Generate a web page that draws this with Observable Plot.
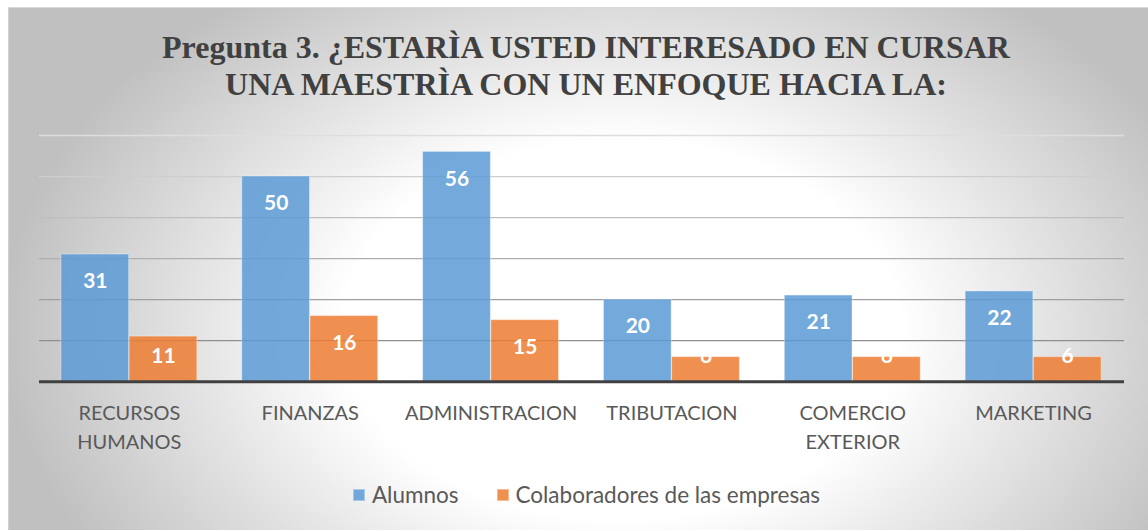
<!DOCTYPE html>
<html><head><meta charset="utf-8">
<script src="https://cdn.jsdelivr.net/npm/d3@7"></script>
<script src="https://cdn.jsdelivr.net/npm/@observablehq/plot@0.6"></script>
<style>
body{margin:0;background:#fff;}
#chart{position:absolute;left:8px;top:7px;width:1140px;height:523px;border-top:1px solid #d9d9d9;border-left:1px solid #d0d0d0;box-sizing:border-box;
background:radial-gradient(ellipse 620px 420px at 612px 322px,#ffffff 0%,#ffffff 45%,#c0c0c0 100%);overflow:hidden;}
#title{position:absolute;left:7px;top:21px;width:1140px;text-align:center;font-family:"Liberation Serif","Times New Roman",serif;font-weight:bold;font-size:32px;line-height:37px;color:#404040;white-space:nowrap;}
#plot{position:absolute;left:0;top:112px;}
#legend{position:absolute;left:0;top:473px;width:1140px;display:flex;justify-content:center;padding-left:15px;box-sizing:border-box;font-family:Lato,sans-serif;font-size:22.5px;color:#595959;}
.item{display:flex;align-items:center;margin:0 19px;}
.sw{width:12px;height:12px;margin-right:7px;box-sizing:border-box;}
</style></head>
<body>
<div id="chart">
  <div id="title">Pregunta 3. ¿ESTARÌA USTED INTERESADO EN CURSAR<br>UNA MAESTRÌA CON UN ENFOQUE HACIA LA:</div>
  <div id="plot"></div>
  <div id="legend"></div>
</div>
<script>
const categories = ["RECURSOS\nHUMANOS","FINANZAS","ADMINISTRACION","TRIBUTACION","COMERCIO\nEXTERIOR","MARKETING"];
const alumnos = [31,50,56,20,21,22];
const colaboradores = [11,16,15,6,6,6];
const seriesNames = ["Alumnos","Colaboradores de las empresas"];
const seriesColors = ["#5b9bd5","#ed7d31"];
const yTicks = [10,20,30,40,50,60];

const rows = categories.map((c,i)=>({category:c, alumnos:alumnos[i], colab:colaboradores[i]}));

const W = 1140, H = 350, mL = 30, mR = 24, mT = 15, mB = 88.5;
const pI = 0.246, pO = 0.123;
const step = (W - mL - mR) / (categories.length - pI + 2*pO);
const bw = step * (1 - pI);
const half = bw / 2;
const labelY = v => Math.max(v - 6.6, 6.1);
const gridColor = d3.interpolateRgb("#8f8f8f", "#dedede");

const marks = [
  Plot.ruleY(yTicks, {y: d=>d, stroke: d=>gridColor((d-10)/50), strokeWidth: 1.3}),
  Plot.barY(rows, {x:"category", y:"alumnos", insetRight: half, fill: seriesColors[0], fillOpacity: 0.85, stroke:"#ffffff", strokeOpacity:0.35}),
  Plot.barY(rows, {x:"category", y:"colab", insetLeft: half, fill: seriesColors[1], fillOpacity: 0.85, stroke:"#ffffff", strokeOpacity:0.35}),
  Plot.ruleY([0], {stroke:"#404040", strokeWidth: 3}),
  Plot.text(rows, {x:"category", y: d=>labelY(d.alumnos), text: d=>String(d.alumnos), dx: -bw/4, fill:"white", fontWeight:"bold", fontSize:21, fontFamily:"Lato"}),
  Plot.text(rows, {x:"category", y: d=>labelY(d.colab), text: d=>String(d.colab), dx: bw/4, fill:"white", fontWeight:"bold", fontSize:21, fontFamily:"Lato"})
];
let xOpts = {type:"band", domain: categories, paddingInner: pI, paddingOuter: pO, label: null};
if (Plot.axisX) {
  marks.push(Plot.axisX({tickSize:0, tickPadding:18, label:null, lineHeight:1.45, fontSize:20, fill:"#595959"}));
} else {
  xOpts = {...xOpts, tickSize:0, tickPadding:18};
}

const chart = Plot.plot({
  width: W, height: H,
  marginLeft: mL, marginRight: mR, marginTop: mT, marginBottom: mB,
  style: {background:"transparent", fontFamily:"Lato", fontSize:"20px", color:"#595959", overflow:"visible"},
  x: xOpts,
  y: {domain:[0,60], axis:null},
  marks
});
document.getElementById("plot").appendChild(chart);

const legend = document.getElementById("legend");
seriesNames.forEach((s,i)=>{
  const it = document.createElement("div"); it.className="item";
  const sw = document.createElement("div"); sw.className="sw";
  sw.style.background = seriesColors[i]; sw.style.opacity = 0.85; sw.style.border="1px solid rgba(255,255,255,0.4)";
  const tx = document.createElement("span"); tx.textContent = s;
  it.appendChild(sw); it.appendChild(tx); legend.appendChild(it);
});
</script>
</body></html>
